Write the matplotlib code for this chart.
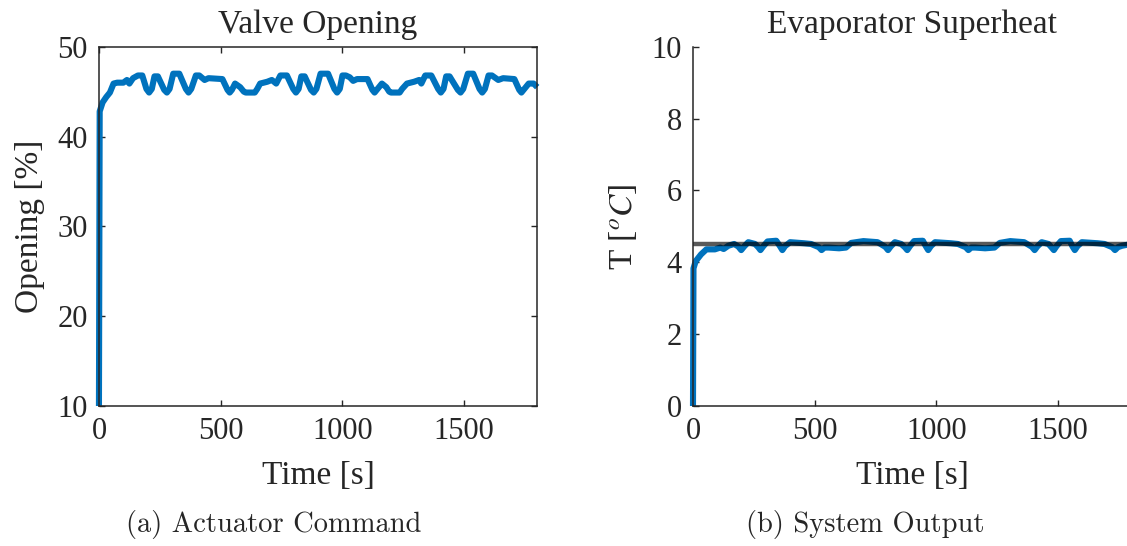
import matplotlib
matplotlib.use("Agg")
import matplotlib.pyplot as plt

# valve opening command [%] vs time [s]
t_valve = [0, 3, 15, 30, 45, 60, 75, 100, 115, 125, 140, 160, 178,
           195, 206, 217, 228, 242, 268, 279, 290, 305, 330, 357, 368, 379,
           398, 412, 434, 450, 507, 528, 537, 546, 559, 580, 595, 603, 640,
           650, 662, 691, 710, 728, 745, 772,
           798, 809, 820, 831, 845, 871, 882, 893, 910, 941, 967, 978, 989,
           1000, 1014, 1030, 1044, 1060, 1103, 1123, 1132, 1141, 1162, 1180,
           1192, 1199, 1235, 1245, 1265, 1294, 1315, 1324, 1340, 1365,
           1393, 1404, 1415, 1426, 1440, 1474, 1485, 1496, 1515, 1537, 1563,
           1574, 1585, 1600, 1614, 1640, 1660, 1706, 1726, 1735, 1744, 1765,
           1785, 1800]
valve_open = [10, 42.8, 43.8, 44.4, 44.9, 45.9, 46.0, 46.0, 46.3, 45.9, 46.5, 46.8, 46.8,
              45.3, 44.9, 45.3, 46.7, 46.7, 45.2, 44.9, 45.3, 47.0, 47.0, 45.3, 44.9, 45.3,
              46.8, 46.8, 46.3, 46.5, 46.4, 45.2, 44.9, 45.2, 45.9, 45.5, 45.0, 44.9, 44.9,
              45.3, 45.9, 46.1, 46.3, 45.9, 46.8, 46.8,
              45.3, 44.9, 45.3, 46.7, 46.7, 45.2, 44.9, 45.3, 47.0, 47.0, 45.3, 44.9, 45.3,
              46.8, 46.8, 46.6, 46.2, 46.4, 46.4, 45.2, 44.9, 45.2, 45.9, 45.5,
              45.0, 44.9, 44.9, 45.3, 45.9, 46.1, 46.3, 45.9, 46.8, 46.8,
              45.3, 44.9, 45.3, 46.7, 46.7, 45.2, 44.9, 45.3, 47.0, 47.0, 45.3,
              44.9, 45.3, 46.8, 46.8, 46.3, 46.5, 46.4, 45.2, 44.9, 45.2, 45.9,
              45.9, 45.5]

# evaporator superheat [C] vs time [s]
t_sh = [0, 2, 11, 33, 55, 90, 112, 126, 145, 169, 186, 198, 210, 227, 255,
        268, 277, 288, 306, 342, 357, 367, 378, 399, 456, 485, 517, 528, 540,
        557, 600, 628, 650, 700, 758, 790, 801, 812, 829, 855, 870, 880, 891,
        908, 944, 956, 966, 977, 994, 1059, 1088, 1120, 1131, 1143, 1159,
        1200, 1238, 1260, 1303, 1360, 1392, 1403, 1414, 1432, 1460, 1472,
        1482, 1493, 1511, 1547, 1558, 1568, 1579, 1597, 1662, 1690, 1722,
        1733, 1745, 1762, 1800]
superheat = [0, 3.83, 4.03, 4.22, 4.36, 4.36, 4.41, 4.37, 4.46, 4.51, 4.44, 4.34, 4.44, 4.56, 4.51,
             4.42, 4.34, 4.44, 4.58, 4.60, 4.45, 4.34, 4.45, 4.56, 4.53, 4.51, 4.42, 4.34, 4.41,
             4.41, 4.39, 4.41, 4.54, 4.59, 4.56, 4.43, 4.34, 4.44, 4.56, 4.51, 4.42, 4.34, 4.45,
             4.59, 4.60, 4.45, 4.34, 4.45, 4.56, 4.53, 4.51, 4.42, 4.34, 4.41, 4.41,
             4.39, 4.41, 4.54, 4.59, 4.56, 4.43, 4.34, 4.44, 4.56, 4.51, 4.42,
             4.34, 4.45, 4.59, 4.60, 4.45, 4.34, 4.45, 4.56, 4.53, 4.51, 4.42,
             4.34, 4.42, 4.46, 4.51]
sh_setpoint = 4.5

blue = '#0072BD'
dark = '#262626'

plt.rcParams['font.family'] = ['Liberation Serif', 'DejaVu Serif']
plt.rcParams['mathtext.fontset'] = 'stix'
plt.rcParams['text.color'] = dark
plt.rcParams['axes.labelcolor'] = dark
plt.rcParams['xtick.color'] = dark
plt.rcParams['ytick.color'] = dark

fig = plt.figure(figsize=(11.27, 5.46), dpi=100)
ax1 = fig.add_axes([0.0878, 0.2564, 0.3889, 0.658])
ax2 = fig.add_axes([0.6149, 0.2564, 0.3889, 0.658])

for ax in (ax1, ax2):
    for sp in ax.spines.values():
        sp.set_color(dark)
        sp.set_linewidth(1.1)
    ax.set_xlim(0, 1800)
    ax.set_xticks([0, 500, 1000, 1500])
    ax.tick_params(direction='in', length=4.5, width=1.0, labelsize=22, pad=8)

# (a) valve command
ax1.plot(t_valve, valve_open, color=blue, lw=4.4, clip_on=False,
         solid_joinstyle='round', solid_capstyle='butt')
ax1.set_ylim(10, 50)
ax1.set_yticks([10, 20, 30, 40, 50])
ax1.tick_params(top=True, right=True)
ax1.set_title('Valve Opening', fontsize=24, pad=10)
ax1.set_xlabel('Time [s]', fontsize=24, va='center')
ax1.xaxis.set_label_coords(0.5, -0.195)
ax1.set_ylabel('Opening [%]', fontsize=24, va='center')
ax1.yaxis.set_label_coords(-0.1586, 0.5)

# (b) superheat with setpoint
ax2.plot(t_sh, superheat, color=blue, lw=4.4, clip_on=False,
         solid_joinstyle='round', solid_capstyle='butt')
ax2.axhline(sh_setpoint, color='k', alpha=0.65, lw=3.2)
ax2.set_ylim(0, 10)
ax2.set_yticks([0, 2, 4, 6, 8, 10])
ax2.spines['top'].set_visible(False)
ax2.spines['right'].set_visible(False)
ax2.set_title('Evaporator Superheat', fontsize=24, pad=10)
ax2.set_xlabel('Time [s]', fontsize=24, va='center')
ax2.xaxis.set_label_coords(0.5, -0.195)
ax2.set_ylabel(r'T [$^{o}C$]', fontsize=24, va='center')
ax2.yaxis.set_label_coords(-0.1604, 0.5)

fig.text(0.243, 0.026, '(a) Actuator Command', fontsize=20.5, family='cmr10',
         ha='center', va='baseline')
fig.text(0.768, 0.026, '(b) System Output', fontsize=20.5, family='cmr10',
         ha='center', va='baseline')

fig.savefig('out.png', dpi=100)
